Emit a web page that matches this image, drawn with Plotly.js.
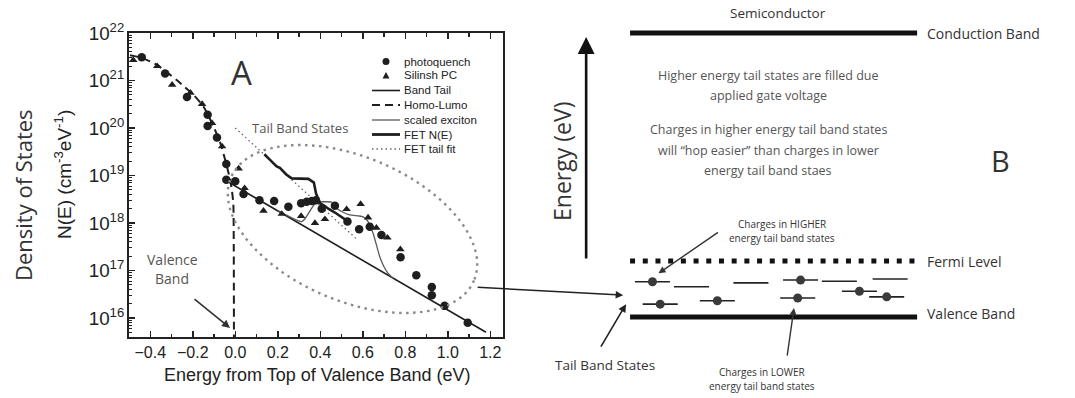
<!DOCTYPE html>
<html><head><meta charset="utf-8">
<script src="https://cdn.plot.ly/plotly-3.0.1.min.js"></script>
<style>html,body{margin:0;padding:0;background:#fff;}#chart{width:1075px;height:398px;}</style>
</head><body><div id="chart"></div>
<script>
// ================= Panel A data (energy in eV, N in cm^-3 eV^-1) =================
const photoquenchE = [-0.44,-0.33,-0.227,-0.13,-0.13,-0.086,-0.042,-0.042,0.0,0.039,0.114,0.183,0.25,0.31,0.336,0.36,0.38,0.407,0.469,0.528,0.583,0.633,0.688,0.778,0.852,0.925,0.925,0.985,1.094];
const photoquenchN = [3.1e21,1.4e21,4.5e20,1.9e20,1.1e20,6.3e19,1.75e19,8.1e18,7.6e18,4.1e18,3.0e18,2.9e18,2.2e18,2.6e18,2.8e18,2.9e18,3.0e18,2.0e18,2.3e18,1.07e18,7.4e17,8.3e17,5.6e17,1.9e17,7.9e16,4.5e16,3.0e16,1.8e16,7.9e15];

const silinshE = [-0.48,-0.367,-0.297,-0.211,-0.156,-0.109,-0.062,0.016,0.044,0.133,0.219,0.31,0.375,0.422,0.524,0.59,0.625,0.664,0.716,0.777];
const silinshN = [2.7e21,2.0e21,8.1e20,5.5e20,3.2e20,1.26e20,4.1e19,1.4e19,5.4e18,1.8e18,1.55e18,1.4e18,1.0e18,1.2e18,1.95e18,2.5e18,1.3e18,7.9e17,4.9e17,2.8e17];

const bandTailE = [-0.04,1.18];
const bandTailN = [7.6e18,5.0e15];

const homoLumoE = [-0.495,-0.44,-0.367,-0.273,-0.195,-0.149,-0.102,-0.07,-0.047,-0.027,-0.016,-0.009,-0.007,-0.006];
const homoLumoN = [3.4e21,3.0e21,2.1e21,1.0e21,4.9e20,2.8e20,1.07e20,4.8e19,2.1e19,9.3e18,5.0e18,2.5e18,3.0e17,1.0e15];

const excitonE = [0.2,0.28,0.313,0.33,0.344,0.37,0.39,0.42,0.453,0.477,0.51,0.539,0.58,0.602,0.625,0.649,0.68,0.7,0.719,0.742];
const excitonN = [1.82e18,1.2e18,1.07e18,1.26e18,1.58e18,2.4e18,2.75e18,2.8e18,2.75e18,2.04e18,1.66e18,1.48e18,1.41e18,1.35e18,1.07e18,6.0e17,1.95e17,1.2e17,8.7e16,6.9e16];

const fetE = [0.137,0.15,0.165,0.18,0.195,0.21,0.219,0.24,0.266,0.3,0.344,0.36,0.37,0.38,0.391,0.399,0.42,0.438,0.469,0.5,0.539];
const fetN = [2.8e19,2.4e19,2.1e19,1.8e19,1.55e19,1.45e19,1.32e19,1.05e19,8.7e18,8.5e18,8.5e18,7.6e18,7.1e18,4.2e18,3.0e18,2.6e18,2.3e18,2.0e18,1.66e18,1.32e18,1.02e18];

const fetFitE = [0.0,0.578];
const fetFitN = [1.0e20,4.3e17];

const legendLabels = ['photoquench','Silinsh PC','Band Tail','Homo-Lumo','scaled exciton','FET N(E)','FET tail fit'];

// ================= Panel B schematic data (position units, energy units) =================
const bandNames  = ['Conduction Band','Fermi Level','Valence Band'];
const bandLevels = [5.07,1.0,0.0];
const bandStart = 0, bandEnd = 10;
const stateX = [0.78,2.14,4.21,5.94,7.29,9.06,7.99,8.94,1.05,3.04,5.84];
const stateE = [0.63,0.54,0.61,0.66,0.64,0.68,0.46,0.36,0.23,0.29,0.34];
const stateFilled = [true,false,false,true,false,false,true,true,true,true,true];
const stateHalfWidth = 0.61;

// ================= helpers =================
const W = 1075, H = 398;
const PX = p => p / W;
const PY = p => 1 - p / H;
const SANS = 'Liberation Sans, Arial, sans-serif';
const HUM = 'Open Sans, Noto Sans, sans-serif';
const INK = '#1e1e1e';

const traces = [];
// Panel A traces
traces.push({x: bandTailE, y: bandTailN, mode:'lines', line:{color:INK, width:1.6}, name:'Band Tail', showlegend:false, xaxis:'x', yaxis:'y'});
traces.push({x: homoLumoE, y: homoLumoN, mode:'lines', line:{color:INK, width:2, dash:'8px,5px', shape:'spline', smoothing:0.6}, name:'Homo-Lumo', showlegend:false});
traces.push({x: fetFitE, y: fetFitN, mode:'lines', line:{color:'#666', width:1.3, dash:'1.5px,3px'}, name:'FET tail fit', showlegend:false});
traces.push({x: excitonE, y: excitonN, mode:'lines', line:{color:'#5a5a5a', width:1.3, shape:'spline', smoothing:0.5}, name:'scaled exciton', showlegend:false});
traces.push({x: fetE, y: fetN, mode:'lines', line:{color:INK, width:2.6}, name:'FET N(E)', showlegend:false});
traces.push({x: photoquenchE, y: photoquenchN, mode:'markers', marker:{symbol:'circle', size:8.5, color:INK}, name:'photoquench', showlegend:false});
traces.push({x: silinshE, y: silinshN, mode:'markers', marker:{symbol:'triangle-up', size:7.5, color:INK}, name:'Silinsh PC', showlegend:false});

// Panel B traces
bandNames.forEach((nm, i) => {
  traces.push({x:[bandStart, bandEnd], y:[bandLevels[i], bandLevels[i]], mode:'lines', xaxis:'x2', yaxis:'y2', showlegend:false, name:nm,
    line:{color:'#111', width:5, dash: nm === 'Fermi Level' ? '5px,7.7px' : 'solid'}});
});
const segX = [], segY = [];
stateX.forEach((cx, i) => { segX.push(cx - stateHalfWidth, cx + stateHalfWidth, null); segY.push(stateE[i], stateE[i], null); });
traces.push({x: segX, y: segY, mode:'lines', xaxis:'x2', yaxis:'y2', showlegend:false, line:{color:'#222', width:1.6}, name:'tail states'});
traces.push({x: stateX.filter((v,i)=>stateFilled[i]), y: stateE.filter((v,i)=>stateFilled[i]), mode:'markers', xaxis:'x2', yaxis:'y2', showlegend:false,
  marker:{size:9, color:'#3a3a3a'}, name:'charges'});

// ================= shapes =================
const shapes = [];
// tilted dotted ellipse around tail region (pixel geometry -> paper)
(function(){
  const cx = 352.5, cy = 229, a = 132, b = 72, th = 23 * Math.PI / 180;
  let d = '';
  for (let k = 0; k <= 120; k++) {
    const t = 2 * Math.PI * k / 120;
    const x = cx + a * Math.cos(t) * Math.cos(th) - b * Math.sin(t) * Math.sin(th);
    const y = cy + a * Math.cos(t) * Math.sin(th) + b * Math.sin(t) * Math.cos(th);
    d += (k === 0 ? 'M' : 'L') + PX(x).toFixed(5) + ',' + PY(y).toFixed(5);
  }
  shapes.push({type:'path', xref:'paper', yref:'paper', path:d + 'Z', line:{color:'#8a8a8a', width:2.4, dash:'2.5px,4.5px'}});
})();

// custom legend
const legX0 = 372, legX1 = 400, legMid = 386, legTextX = 402;
const legRowY = [61.5, 75.5, 90.5, 105, 120, 134.5, 149];
shapes.push({type:'circle', xref:'paper', yref:'paper', x0:PX(legMid-3.5), x1:PX(legMid+3.5), y0:PY(legRowY[0]+3.5), y1:PY(legRowY[0]-3.5), fillcolor:INK, line:{width:0}});
shapes.push({type:'path', xref:'paper', yref:'paper', path:'M'+PX(legMid-3.5)+','+PY(legRowY[1]+3)+'L'+PX(legMid+3.5)+','+PY(legRowY[1]+3)+'L'+PX(legMid)+','+PY(legRowY[1]-3.5)+'Z', fillcolor:INK, line:{width:0}});
const legLineStyles = [null, null, {color:INK,width:1.6}, {color:INK,width:2,dash:'8px,5px'}, {color:'#5a5a5a',width:1.3}, {color:INK,width:2.8}, {color:'#666',width:1.3,dash:'1.5px,3px'}];
legLineStyles.forEach((st, i) => {
  if (!st) return;
  shapes.push({type:'line', xref:'paper', yref:'paper', x0:PX(legX0), x1:PX(legX1), y0:PY(legRowY[i]), y1:PY(legRowY[i]), line:st});
});

// ================= annotations =================
const ann = [];
legendLabels.forEach((t, i) => ann.push({xref:'paper', yref:'paper', x:PX(legTextX), y:PY(legRowY[i]), xanchor:'left', yanchor:'middle', text:t, showarrow:false, font:{family:SANS, size:11.5, color:'#222'}}));

// panel A titles and labels
ann.push({xref:'paper', yref:'paper', x:PX(23), y:PY(195), text:'Density of States', textangle:-90, showarrow:false, xanchor:'center', yanchor:'middle', font:{family:HUM, size:22, color:'#333'}});
ann.push({xref:'paper', yref:'paper', x:PX(63), y:PY(175), text:'N(E) (cm<sup>-3</sup>eV<sup>-1</sup>)', textangle:-90, showarrow:false, xanchor:'center', yanchor:'middle', font:{family:SANS, size:19, color:'#222'}});
ann.push({xref:'paper', yref:'paper', x:PX(317), y:PY(375), text:'Energy from Top of Valence Band (eV)', showarrow:false, xanchor:'center', yanchor:'middle', font:{family:SANS, size:18, color:'#222'}});
ann.push({xref:'paper', yref:'paper', x:PX(241), y:PY(72), text:'A', showarrow:false, xanchor:'center', yanchor:'middle', font:{family:HUM, size:33, color:'#333'}});
ann.push({xref:'paper', yref:'paper', x:PX(300), y:PY(128), text:'Tail Band States', showarrow:false, xanchor:'center', yanchor:'middle', font:{family:HUM, size:13, color:'#555'}});
ann.push({xref:'paper', yref:'paper', x:PX(172), y:PY(259), text:'Valence', showarrow:false, xanchor:'center', yanchor:'middle', font:{family:HUM, size:14, color:'#555'}});
ann.push({xref:'paper', yref:'paper', x:PX(172), y:PY(278), text:'Band', showarrow:false, xanchor:'center', yanchor:'middle', font:{family:HUM, size:14, color:'#555'}});
ann.push({xref:'paper', yref:'paper', x:PX(230), y:PY(328), ax:-37, ay:-30, text:'', showarrow:true, arrowhead:2, arrowsize:1, arrowwidth:1.6, arrowcolor:'#333'});

// connector arrow from panel A ellipse to panel B
ann.push({xref:'x2', yref:'y2', x:-0.24, y:0.39, ax:-147, ay:-8, text:'', showarrow:true, arrowhead:2, arrowsize:1, arrowwidth:1.5, arrowcolor:'#222'});

// panel B labels
bandNames.forEach((nm, i) => ann.push({xref:'x2', yref:'y2', x:10.28, y:bandLevels[i] + (nm === 'Valence Band' ? 0.07 : 0), text:nm, showarrow:false, xanchor:'left', yanchor:'middle', font:{family:HUM, size:14, color:'#333'}}));
ann.push({xref:'x2', yref:'y2', x:5.16, y:5.43, text:'Semiconductor', showarrow:false, xanchor:'center', yanchor:'middle', font:{family:HUM, size:13.5, color:'#333'}});
const bodyLines = ['Higher energy tail states are filled due','applied gate voltage','Charges in higher energy tail band states','will \u201chop easier\u201d than charges in lower','energy tail band staes'];
const bodyY = [4.32, 3.96, 3.34, 2.98, 2.625];
bodyLines.forEach((t, i) => ann.push({xref:'x2', yref:'y2', x:4.81, y:bodyY[i], text:t, showarrow:false, xanchor:'center', yanchor:'middle', font:{family:HUM, size:12.5, color:'#555'}}));
ann.push({xref:'x2', yref:'y2', x:12.89, y:2.80, text:'B', showarrow:false, xanchor:'center', yanchor:'middle', font:{family:HUM, size:29, color:'#333'}});
ann.push({xref:'x2', yref:'y2', x:-2.37, y:2.77, text:'Energy (eV)', textangle:-90, showarrow:false, xanchor:'center', yanchor:'middle', font:{family:HUM, size:23, color:'#333'}});
ann.push({xref:'x2', yref:'y2', x:-1.53, y:5.0, ax:0, ay:223, text:'', showarrow:true, arrowhead:2, arrowsize:1.3, arrowwidth:2.6, arrowcolor:'#111'});
ann.push({xref:'x2', yref:'y2', x:5.29, y:1.67, text:'Charges in HIGHER', showarrow:false, xanchor:'center', yanchor:'middle', font:{family:HUM, size:10, color:'#333'}});
ann.push({xref:'x2', yref:'y2', x:5.29, y:1.405, text:'energy tail band states', showarrow:false, xanchor:'center', yanchor:'middle', font:{family:HUM, size:10, color:'#333'}});
ann.push({xref:'x2', yref:'y2', x:0.99, y:0.78, ax:61, ay:-42, text:'', showarrow:true, arrowhead:2, arrowsize:1, arrowwidth:1.4, arrowcolor:'#333'});
ann.push({xref:'x2', yref:'y2', x:4.59, y:-0.98, text:'Charges in LOWER', showarrow:false, xanchor:'center', yanchor:'middle', font:{family:HUM, size:10, color:'#333'}});
ann.push({xref:'x2', yref:'y2', x:4.59, y:-1.23, text:'energy tail band states', showarrow:false, xanchor:'center', yanchor:'middle', font:{family:HUM, size:10, color:'#333'}});
ann.push({xref:'x2', yref:'y2', x:5.71, y:0.16, ax:-7, ay:49, text:'', showarrow:true, arrowhead:2, arrowsize:1, arrowwidth:1.4, arrowcolor:'#333'});
ann.push({xref:'x2', yref:'y2', x:-0.87, y:-0.857, text:'Tail Band States', showarrow:false, xanchor:'center', yanchor:'middle', font:{family:HUM, size:13.5, color:'#333'}});
ann.push({xref:'x2', yref:'y2', x:-0.14, y:0.23, ax:-26, ay:44, text:'', showarrow:true, arrowhead:2, arrowsize:1, arrowwidth:1.6, arrowcolor:'#222'});

const layout = {
  width: W, height: H,
  margin: {l:0, r:0, t:0, b:0, pad:0},
  paper_bgcolor:'#fff', plot_bgcolor:'rgba(0,0,0,0)',
  showlegend:false,
  xaxis: {domain:[PX(129), PX(503)], range:[-0.5,1.26], tickmode:'linear', tick0:0, dtick:0.2, tickformat:'.1f',
    ticks:'inside', ticklen:6, tickwidth:1.5, tickcolor:'#222',
    minor:{ticks:'inside', ticklen:3.5, dtick:0.1, tick0:0, tickcolor:'#222', tickwidth:1.2, showgrid:false},
    showline:true, linewidth:1.8, linecolor:'#222', mirror:'ticks', showgrid:false, zeroline:false,
    tickfont:{family:SANS, size:16, color:'#222'}, anchor:'y', fixedrange:true},
  yaxis: {domain:[PY(337), PY(33)], type:'log', range:[15.6,22], dtick:1, exponentformat:'power',
    ticks:'inside', ticklen:6, tickwidth:1.5, tickcolor:'#222',
    minor:{ticks:'inside', ticklen:3, dtick:'D1', tickcolor:'#222', tickwidth:1, showgrid:false},
    showline:true, linewidth:1.8, linecolor:'#222', mirror:true, showgrid:false, zeroline:false,
    tickfont:{family:SANS, size:15, color:'#222'}, anchor:'x', fixedrange:true},
  xaxis2: {domain:[0,1], range:[-21.95,15.5], visible:false, anchor:'y2', fixedrange:true},
  yaxis2: {domain:[0,1], range:[-1.446,5.661], visible:false, anchor:'x2', fixedrange:true},
  shapes: shapes,
  annotations: ann
};

Plotly.newPlot('chart', traces, layout, {displayModeBar:false, staticPlot:true});
</script></body></html>
